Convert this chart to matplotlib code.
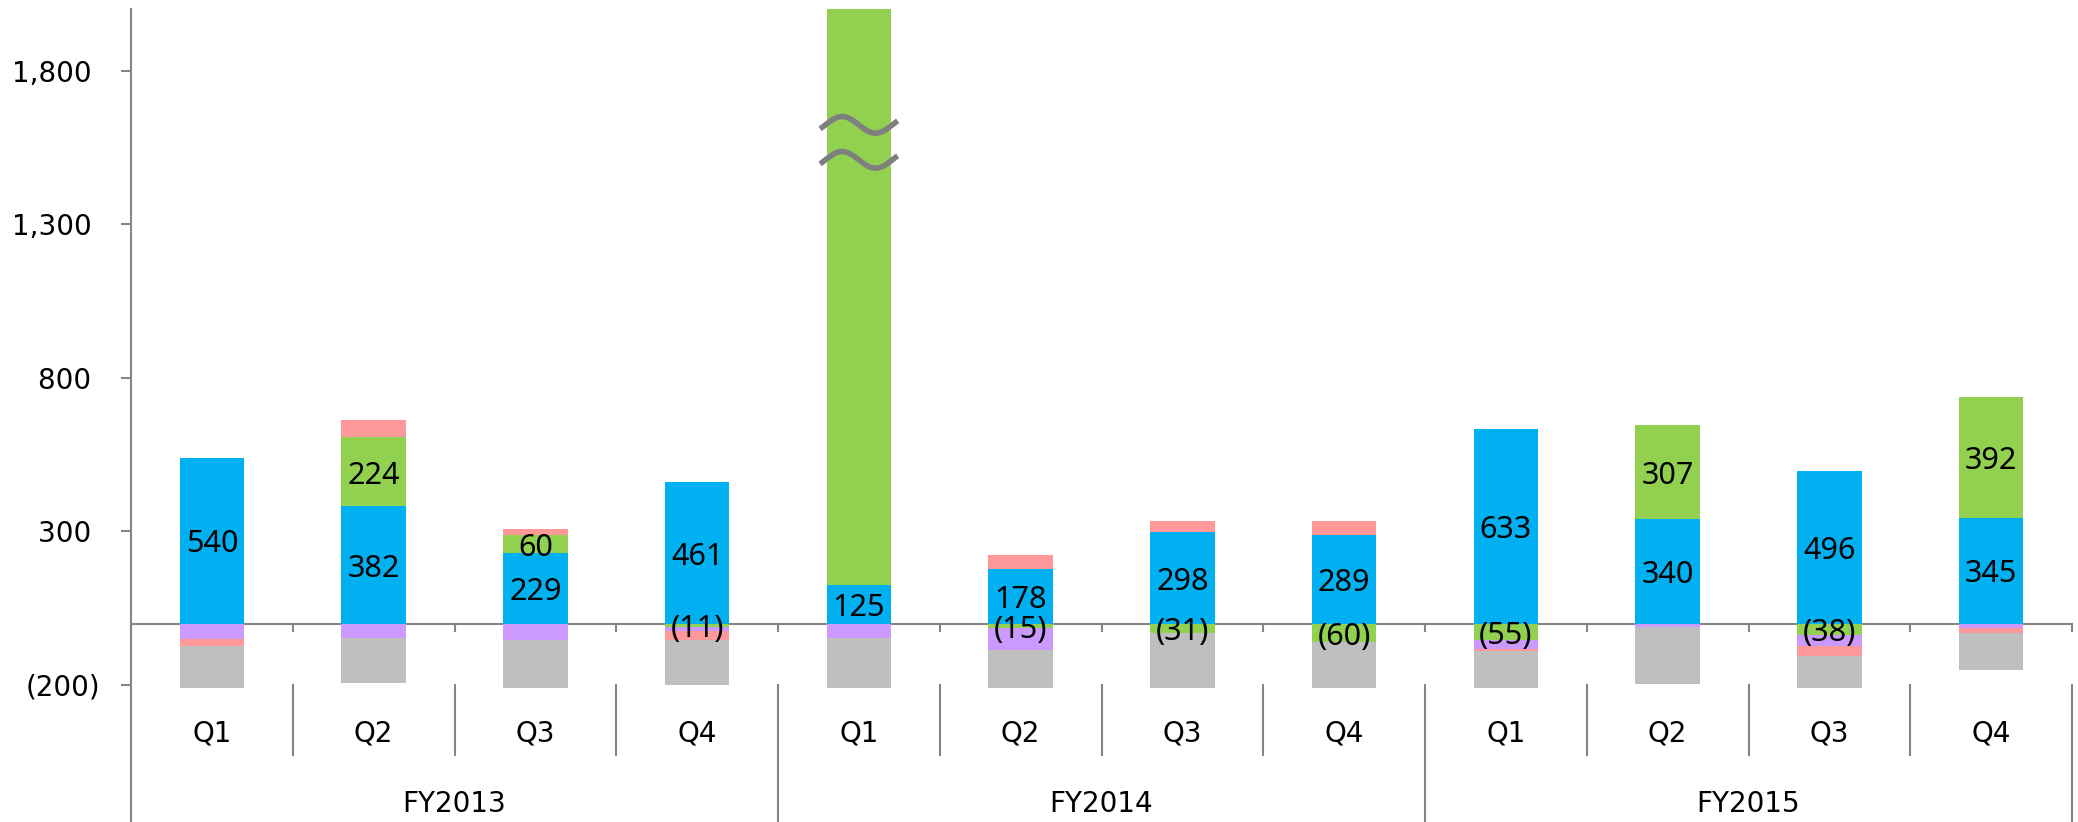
import numpy as np
import matplotlib.pyplot as plt
from matplotlib import transforms

quarters = ['Q1', 'Q2', 'Q3', 'Q4'] * 3
years = ['FY2013', 'FY2014', 'FY2015']

# stacked series, in stacking order (positives go up, negatives go down)
blue = [540, 382, 229, 461, 125, 178, 298, 289, 633, 340, 496, 345]
green = [0, 224, 60, -11, 2100, -15, -31, -60, -55, 307, -38, 392]
purple = [-52, -48, -55, -12, -46, -71, 0, 0, -28, -11, -35, -14]
red = [-20, 58, 20, -31, 0, 44, 35, 45, -8, 0, -33, -16]
gray = [-145, -146, -160, -147, -170, -130, -185, -155, -125, -185, -110, -122]

yticks = [-200, 300, 800, 1300, 1800]
broken_bar = 4          # FY2014 Q1, green part is off the scale
break_levels = [1624, 1510]

axis_gray = '#868686'
# (values, colour, show labels)
series = [
    (blue, '#00B0F0', True),
    (green, '#92D050', True),
    (purple, '#CC99FF', False),
    (red, '#FF9999', False),
    (gray, '#BFBFBF', False),
]


def fmt(v):
    return '({:,.0f})'.format(abs(v)) if v < 0 else '{:,.0f}'.format(v)


fig = plt.figure(figsize=(20.78, 8.22), dpi=100)
ax = fig.add_axes([131 / 2078, 1 - 688.3 / 822, (2072 - 131) / 2078, (688.3 - 9.4) / 822])

x = np.arange(len(quarters))
pos_base = np.zeros(len(x))
neg_base = np.zeros(len(x))
for vals, color, labelled in series:
    vals = np.array(vals, dtype=float)
    base = np.where(vals >= 0, pos_base, neg_base)
    ax.bar(x, vals, width=0.4, bottom=base, color=color, linewidth=0, zorder=3)
    if labelled:
        for i, v in enumerate(vals):
            if v == 0 or (i == broken_bar and base[i] + v > 2000):
                continue
            ax.annotate(fmt(v), (x[i], base[i] + v / 2), xytext=(0, -8.5),
                        textcoords='offset points', ha='center', va='baseline',
                        fontsize=22, family=['DejaVu Sans Condensed', 'Noto Sans'],
                        zorder=5)
    pos_base += np.where(vals >= 0, vals, 0)
    neg_base += np.where(vals < 0, vals, 0)

ax.set_xlim(-0.5, len(x) - 0.5)
ax.set_ylim(-211, 2000)

# axes styling
for side in ['top', 'right']:
    ax.spines[side].set_visible(False)
ax.spines['bottom'].set_position(('data', 0))
for side in ['left', 'bottom']:
    ax.spines[side].set_color(axis_gray)
    ax.spines[side].set_linewidth(1.5)

ax.set_yticks(yticks)
ax.set_yticklabels([fmt(v) if v < 0 else fmt(v) + ' ' for v in yticks])
ax.tick_params(axis='y', direction='out', length=7.5, width=1.5, color=axis_gray,
               pad=14.5, labelsize=20)
ax.set_xticks(np.arange(-0.5, len(x), 1))
ax.set_xticklabels([])
ax.tick_params(axis='x', direction='out', length=6, width=1.5, color=axis_gray)

# break mark on the tall bar
t = np.linspace(0, 1, 120)
wx = broken_bar + (t - 0.5) * 0.48
for yc in break_levels:
    wy = yc + 27 * np.sin(2 * np.pi * (-0.08 + 1.16 * t))
    ax.plot(wx, wy, color='#7F7F7F', lw=4, solid_capstyle='butt', zorder=6)

# two-level category axis below the plot
trans = transforms.blended_transform_factory(ax.transData, fig.transFigure)
y_start = fig.transFigure.inverted().transform(ax.transData.transform((0, -200)))[1]
ax_bottom = ax.get_position().y0
q_bottom = 1 - 755 / 822

ax.plot([-0.5, -0.5], [0, ax_bottom], transform=trans, color=axis_gray, lw=1.5,
        clip_on=False)
for b in np.arange(0.5, len(x), 1):
    end = 0 if (b + 0.5) % 4 == 0 else q_bottom
    ax.plot([b, b], [y_start, end], transform=trans, color=axis_gray, lw=1.5,
            clip_on=False)

for i, q in enumerate(quarters):
    ax.text(i, 1 - 741 / 822, q, transform=trans, ha='center', va='baseline',
            fontsize=20)
for j, yr in enumerate(years):
    ax.text(4 * j + 1.5, 1 - 811.7 / 822, yr, transform=trans, ha='center',
            va='baseline', fontsize=20)

fig.savefig('out.png', dpi=100)
